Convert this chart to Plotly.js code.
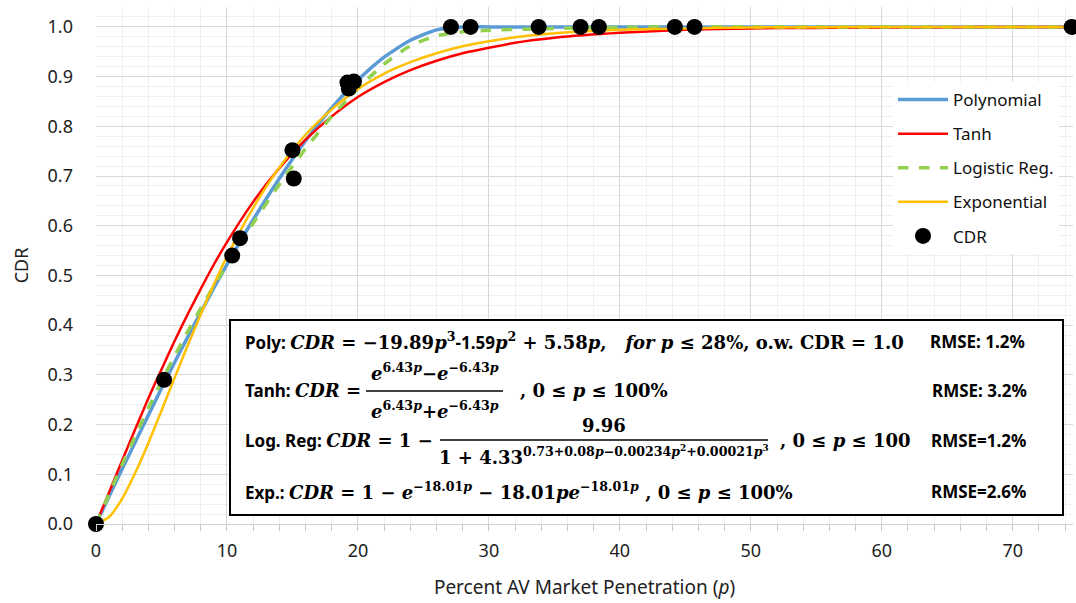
<!DOCTYPE html>
<html>
<head>
<meta charset="utf-8">
<script src="https://cdn.plot.ly/plotly-3.0.1.min.js"></script>
<style>html,body{margin:0;padding:0;background:#fff;}#chart{width:1076px;height:603px;}</style>
</head>
<body>
<div id="chart"></div>
<script>
// ---- data ----
var curveX = [0,1,2,3,4,5,6,7,8,9,10,12,14,16,18,20,22,24,26,28,30,32,35,40,45,50,55,60,65,70,75];
var polyY  = [0,0.056,0.111,0.165,0.219,0.273,0.325,0.376,0.426,0.475,0.522,0.612,0.695,0.771,0.837,0.893,0.939,0.973,0.994,1.0,1.0,1.0,1.0,1.0,1.0,1.0,1.0,1.0,1.0,1.0,1.0];
var tanhY  = [0,0.064,0.128,0.191,0.253,0.311,0.368,0.422,0.473,0.522,0.567,0.648,0.716,0.773,0.820,0.859,0.889,0.913,0.932,0.947,0.958,0.968,0.978,0.988,0.994,0.997,0.998,0.999,0.9995,0.9998,0.9999];
var logY   = [0,0.060,0.120,0.177,0.233,0.287,0.338,0.387,0.434,0.479,0.522,0.605,0.683,0.755,0.820,0.876,0.925,0.962,0.982,0.990,0.993,0.995,0.997,0.999,1.0,1.0,1.0,1.0,1.0,1.0,1.0];
var expY   = [0,0.014,0.051,0.103,0.163,0.228,0.294,0.359,0.422,0.482,0.538,0.636,0.717,0.783,0.834,0.875,0.906,0.929,0.947,0.961,0.971,0.979,0.987,0.994,0.997,0.999,0.9995,0.9998,1.0,1.0,1.0];
var cdrX = [0,5.2,10.4,11.0,15.0,15.1,19.2,19.3,19.7,27.1,28.6,33.8,37.0,38.4,44.2,45.7,74.5];
var cdrY = [0,0.29,0.54,0.575,0.752,0.695,0.888,0.876,0.89,1,1,1,1,1,1,1,1];
var seriesNames = ['Polynomial','Tanh','Logistic Reg.','Exponential','CDR'];
var xTickVals = [0,10,20,30,40,50,60,70];

// ---- layout helpers (pixel -> paper) ----
var L=96, R=1073, T=7, B=524;
function px(x){return (x-L)/(R-L);}
function py(y){return (B-y)/(B-T);}

var sans = 'Noto Sans, Liberation Sans, sans-serif';
var serif = 'DejaVu Serif';
function m(s,sz){return '<span style="font-family:'+serif+';font-size:'+(sz||18)+'px">'+s+'</span>';}

var traces = [
  {x:curveX,y:polyY,name:seriesNames[0],mode:'lines',line:{color:'#5B9BD5',width:3.5,shape:'spline',smoothing:0.6},legendgroup:'a'},
  {x:curveX,y:tanhY,name:seriesNames[1],mode:'lines',line:{color:'#FF0000',width:2.5,shape:'spline',smoothing:0.6},legendgroup:'b'},
  {x:curveX,y:logY,name:seriesNames[2],mode:'lines',line:{color:'#92D050',width:3.5,dash:'dash',shape:'spline',smoothing:0.6},legendgroup:'c'},
  {x:curveX,y:expY,name:seriesNames[3],mode:'lines',line:{color:'#FFC000',width:2.5,shape:'spline',smoothing:0.6},legendgroup:'d'},
  {x:cdrX,y:cdrY,name:seriesNames[4],mode:'markers',marker:{color:'#000',size:16},cliponaxis:false,legendgroup:'e'}
];

var fs = 17;
var ann = [];
function A(x,y,text,anchor,size){
  ann.push({xref:'paper',yref:'paper',x:px(x),y:py(y),text:text,showarrow:false,xanchor:anchor||'left',yanchor:'middle',
            font:{family:sans,size:size||fs,color:'#000'}});
}
// Row 1
A(243,341,'<b>Poly: </b>'+m('<b><i>CDR</i> = −19.89<i>p</i><sup>3</sup></b>')+'<b>-1.59</b>'+m('<b><i>p</i><sup>2</sup> + 5.58<i>p</i>,   <i>for p</i> ≤ 28%, o.w. CDR = 1.0</b>'));
// Row 2
A(243,391,'<b>Tanh: </b>'+m('<b><i>CDR</i> =</b>'));
A(435,372,m('<b><i>e</i><sup>6.43<i>p</i></sup>−<i>e</i><sup>−6.43<i>p</i></sup></b>'),'center');
A(435,410,m('<b><i>e</i><sup>6.43<i>p</i></sup>+<i>e</i><sup>−6.43<i>p</i></sup></b>'),'center');
A(518,391,m('<b>, 0 ≤ <i>p</i> ≤ 100%</b>'));
// Row 3
A(243,440,'<b>Log. Reg: </b>'+m('<b><i>CDR</i> = 1 −</b>'));
A(604,425,m('<b>9.96</b>'),'center');
A(604,455,m('<b>1 + 4.33<sup>0.73+0.08<i>p</i>−0.00234<i>p</i><sup>2</sup>+0.00021<i>p</i><sup>3</sup></sup></b>'),'center');
A(778,440,m('<b>, 0 ≤ <i>p</i> ≤ 100</b>'));
// Row 4
A(243,491,'<b>Exp.: </b>'+m('<b><i>CDR</i> = 1 − <i>e</i><sup>−18.01<i>p</i></sup> − 18.01<i>pe</i><sup>−18.01<i>p</i></sup> , 0 ≤ <i>p</i> ≤ 100%</b>'));
// RMSE
A(928,341,'<b>RMSE: 1.2%</b>');
A(930,391,'<b>RMSE: 3.2%</b>');
A(929,440,'<b>RMSE=1.2%</b>');
A(929,491,'<b>RMSE=2.6%</b>');

var shapes = [
  {type:'rect',xref:'paper',yref:'paper',x0:px(230),x1:px(1063),y0:py(515),y1:py(320),line:{color:'#000',width:2},fillcolor:'#fff',layer:'above'},
  {type:'line',xref:'paper',yref:'paper',x0:px(366),x1:px(503),y0:py(391),y1:py(391),line:{color:'#000',width:1.5},layer:'above'},
  {type:'line',xref:'paper',yref:'paper',x0:px(440),x1:px(768),y0:py(440),y1:py(440),line:{color:'#000',width:1.5},layer:'above'}
];

var layout = {
  width:1076,height:603,
  margin:{l:L,r:1076-R,t:T,b:603-B,pad:0},
  paper_bgcolor:'#fff',plot_bgcolor:'#fff',
  font:{family:sans,size:17,color:'#222'},
  showlegend:true,
  legend:{x:px(893),y:py(82),xanchor:'left',yanchor:'top',bgcolor:'#fff',borderwidth:0,
          font:{family:sans,size:17,color:'#111'},tracegroupgap:9,itemwidth:50},
  xaxis:{range:[0,74.6],tickvals:xTickVals,ticktext:xTickVals.map(String),showgrid:true,gridcolor:'#d9d9d9',gridwidth:1,
         zeroline:false,showline:true,linecolor:'#d0d0d0',ticks:'',ticklabelstandoff:10,
         tickfont:{family:sans,size:18,color:'#222'},
         minor:{dtick:2,showgrid:true,gridcolor:'#efefef',ticks:'outside',ticklen:6,tickcolor:'#c8c8c8'},
         title:{text:'Percent AV Market Penetration (<i>p</i>)',font:{family:sans,size:19,color:'#222'},standoff:20}},
  yaxis:{range:[0,1.04],dtick:0.1,tick0:0,tickformat:'.1f',showgrid:true,gridcolor:'#d9d9d9',gridwidth:1,
         zeroline:false,showline:false,ticks:'',ticklabelstandoff:22,
         tickfont:{family:sans,size:18,color:'#222'},
         minor:{dtick:0.02,showgrid:true,gridcolor:'#efefef'},
         title:{text:'CDR',font:{family:sans,size:18,color:'#222'},standoff:14}},
  annotations:ann,
  shapes:shapes
};
Plotly.newPlot('chart',traces,layout,{displayModeBar:false,staticPlot:true});
</script>
</body>
</html>
